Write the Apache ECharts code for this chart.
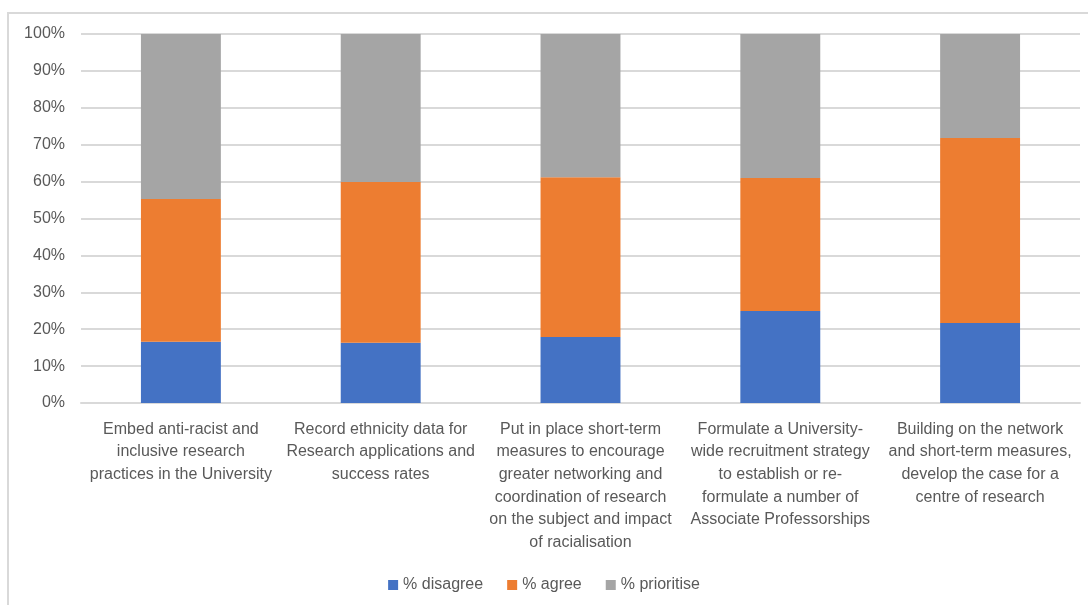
<!DOCTYPE html>
<html>
<head>
<meta charset="utf-8">
<script src="https://cdn.jsdelivr.net/npm/echarts@6/dist/echarts.min.js"></script>
<style>
  html, body { margin: 0; padding: 0; background: #fff; }
  #wrap { position: relative; width: 1088px; height: 605px; overflow: hidden; }
  #frame { position: absolute; left: 7px; top: 12px; width: 1200px; height: 700px;
           border: 2px solid #d9d9d9; box-sizing: border-box; }
  #chart { position: absolute; left: 0; top: 0; width: 1088px; height: 605px; }
</style>
</head>
<body>
<div id="wrap">
  <div id="frame"></div>
  <div id="chart"></div>
</div>
<script>
// Survey actions (line breaks as laid out under each bar)
const categories = [
  'Embed anti-racist and\ninclusive research\npractices in the University',
  'Record ethnicity data for\nResearch applications and\nsuccess rates',
  'Put in place short-term\nmeasures to encourage\ngreater networking and\ncoordination of research\non the subject and impact\nof racialisation',
  'Formulate a University-\nwide recruitment strategy\nto establish or re-\nformulate a number of\nAssociate Professorships',
  'Building on the network\nand short-term measures,\ndevelop the case for a\ncentre of research'
];

// Shares of respondents, in percent
const disagree   = [16.6, 16.3, 17.9, 24.9, 21.7];
const agree      = [38.7, 43.6, 43.3, 36.1, 50.1];
const prioritise = [44.7, 40.1, 38.8, 39.0, 28.2];

const seriesNames = ['% disagree', '% agree', '% prioritise'];
const seriesColors = ['#4472c4', '#ed7d31', '#a5a5a5'];

const font = 'Liberation Sans Narrow, Liberation Sans, sans-serif';

const chart = echarts.init(document.getElementById('chart'), null, { renderer: 'canvas' });

chart.setOption({
  animation: false,
  textStyle: { fontFamily: font },
  grid: { left: 81, right: 8, top: 34, bottom: 202, containLabel: false },
  legend: {
    bottom: 7,
    left: 'center',
    itemWidth: 10,
    itemHeight: 10,
    itemGap: 24,
    icon: 'rect',
    textStyle: { fontSize: 16, color: '#595959', fontFamily: font },
    data: seriesNames
  },
  xAxis: {
    type: 'category',
    data: categories,
    axisLine: { show: true, lineStyle: { color: '#d9d9d9', width: 2 } },
    axisTick: { show: false },
    axisLabel: {
      interval: 0,
      margin: 15,
      fontSize: 16,
      lineHeight: 22.6,
      color: '#595959',
      fontFamily: font,
      align: 'center'
    }
  },
  yAxis: {
    type: 'value',
    min: 0,
    max: 100,
    interval: 10,
    axisLine: { show: false },
    axisTick: { show: false },
    splitLine: { lineStyle: { color: '#d9d9d9', width: 2 } },
    axisLabel: {
      margin: 16,
      fontSize: 16,
      color: '#595959',
      fontFamily: font,
      formatter: v => v + '%'
    }
  },
  series: [disagree, agree, prioritise].map((vals, i) => ({
    name: seriesNames[i],
    type: 'bar',
    stack: 'total',
    barWidth: '40%',
    data: vals,
    itemStyle: { color: seriesColors[i] }
  }))
});
</script>
</body>
</html>
